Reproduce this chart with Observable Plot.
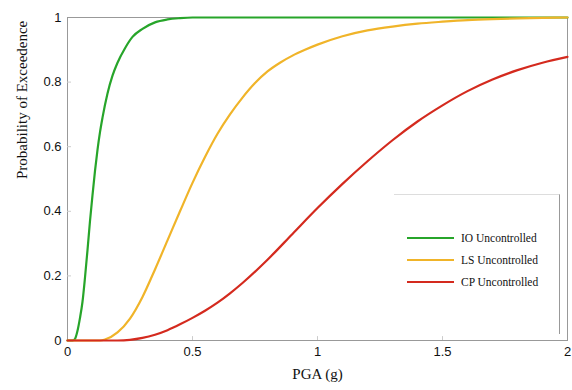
<!DOCTYPE html>
<html>
<head>
<meta charset="utf-8">
<script src="https://cdn.jsdelivr.net/npm/d3@7"></script>
<script src="https://cdn.jsdelivr.net/npm/@observablehq/plot@0.6"></script>
<style>
  html, body { margin: 0; padding: 0; background: #fff; }
  #wrap { position: relative; width: 572px; height: 390px; overflow: hidden; }
  #legend { position: absolute; left: 394px; top: 194px; width: 166px; height: 140px;
            border-top: 1px solid #ddd; border-right: 1px solid #999; box-sizing: border-box;
            font-family: "Liberation Serif", "DejaVu Serif", serif; font-size: 11.5px; color: #111; background: #fff; }
  .row { position: absolute; left: 13px; display: flex; align-items: center; }
  .sw { width: 47px; height: 2px; margin-right: 7px; }
</style>
</head>
<body>
<div id="wrap"></div>
<script>
const seriesNames = ["IO Uncontrolled", "LS Uncontrolled", "CP Uncontrolled"];
const seriesColors = ["#27a52a", "#f0b429", "#d42a1e"];

const ioX = [0, 0.02, 0.03, 0.04, 0.05, 0.06, 0.07, 0.08, 0.09, 0.10, 0.11, 0.12, 0.13, 0.14, 0.16, 0.18, 0.20, 0.23, 0.26, 0.30, 0.35, 0.40, 0.45, 0.5, 1.0, 1.5, 2.0];
const ioY = [0, 0, 0.005, 0.03, 0.07, 0.12, 0.195, 0.28, 0.37, 0.45, 0.525, 0.59, 0.645, 0.69, 0.765, 0.82, 0.86, 0.905, 0.94, 0.965, 0.985, 0.994, 0.998, 1, 1, 1, 1];

const lsX = [0, 0.13, 0.15, 0.20, 0.25, 0.30, 0.35, 0.40, 0.45, 0.50, 0.55, 0.60, 0.65, 0.70, 0.75, 0.80, 0.85, 0.90, 0.95, 1.00, 1.10, 1.20, 1.30, 1.40, 1.50, 1.60, 1.70, 1.80, 2.00];
const lsY = [0, 0, 0.003, 0.025, 0.068, 0.135, 0.22, 0.31, 0.40, 0.488, 0.568, 0.64, 0.70, 0.752, 0.797, 0.833, 0.86, 0.882, 0.90, 0.916, 0.942, 0.96, 0.972, 0.981, 0.987, 0.992, 0.995, 0.997, 1.0];

const cpX = [0, 0.20, 0.25, 0.30, 0.35, 0.40, 0.45, 0.50, 0.55, 0.60, 0.65, 0.70, 0.80, 0.90, 1.00, 1.10, 1.20, 1.30, 1.40, 1.50, 1.60, 1.70, 1.80, 1.90, 2.00];
const cpY = [0, 0, 0.002, 0.008, 0.018, 0.032, 0.05, 0.07, 0.092, 0.117, 0.146, 0.178, 0.25, 0.33, 0.41, 0.485, 0.555, 0.62, 0.678, 0.728, 0.772, 0.808, 0.837, 0.86, 0.878];

const xTicks = [0, 0.5, 1, 1.5, 2];
const yTicks = [0, 0.2, 0.4, 0.6, 0.8, 1];

const xs = [ioX, lsX, cpX], ys = [ioY, lsY, cpY];
const rows = [];
seriesNames.forEach((s, i) => xs[i].forEach((x, j) => rows.push({series: s, x, y: ys[i][j]})));

const chart = Plot.plot({
  width: 572, height: 390,
  marginLeft: 67, marginRight: 5, marginTop: 17, marginBottom: 50,
  style: {fontFamily: "'Liberation Sans', Arial, sans-serif", fontSize: "13px", color: "#111", background: "#fff"},
  x: {domain: [0, 2], ticks: xTicks, tickFormat: d => String(d), tickSize: 0, tickPadding: 6, label: null},
  y: {domain: [0, 1], ticks: yTicks, tickFormat: d => String(d), tickSize: 0, tickPadding: 6, label: null},
  color: {domain: seriesNames, range: seriesColors},
  marks: [
    Plot.frame({stroke: "#999"}),
    Plot.ruleX(xTicks.slice(1, -1), {x: d => d, y1: 0, y2: 0.012, stroke: "#ccc"}),
    Plot.ruleY(yTicks.slice(1, -1), {y: d => d, x1: 0, x2: 0.016, stroke: "#ccc"}),
    Plot.line(rows, {x: "x", y: "y", z: "series", stroke: "series", strokeWidth: 2.2, curve: "monotone-x"}),
    Plot.text(["PGA (g)"], {frameAnchor: "bottom", dy: 38, text: d => d, fontFamily: "'Liberation Serif', serif", fontSize: 15}),
    Plot.text(["Probability of Exceedence"], {frameAnchor: "left", dx: -45, rotate: -90, text: d => d, fontFamily: "'Liberation Serif', serif", fontSize: 15})
  ]
});
const wrap = document.getElementById("wrap");
wrap.appendChild(chart);

const lg = document.createElement("div");
lg.id = "legend";
seriesNames.forEach((s, i) => {
  const r = document.createElement("div");
  r.className = "row";
  r.style.top = (37 + i * 22) + "px";
  const sw = document.createElement("div");
  sw.className = "sw";
  sw.style.background = seriesColors[i];
  const t = document.createElement("span");
  t.textContent = s;
  r.appendChild(sw); r.appendChild(t);
  lg.appendChild(r);
});
wrap.appendChild(lg);
</script>
</body>
</html>
